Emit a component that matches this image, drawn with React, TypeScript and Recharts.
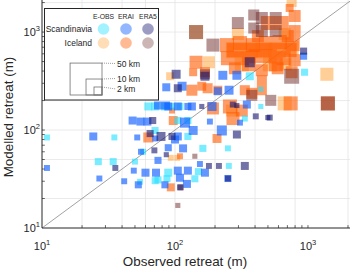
import React from 'react';
import { ScatterChart, Scatter, XAxis, YAxis, CartesianGrid, ReferenceLine, Label } from 'recharts';

const FONT = '"Liberation Sans", Arial, Helvetica, sans-serif';
const INK = '#262626';

const X_DOMAIN = [10, 2070];
const Y_DOMAIN = [10, 2125];
const MAJOR_TICKS = [10, 100, 1000];
const GRID_VALUES = [20, 30, 40, 50, 60, 70, 80, 90, 100, 200, 300, 400, 500, 600, 700, 800, 900, 1000, 2000];

// [observed retreat m, modelled retreat m, glacier length km]
const iceEobs = [
  [144, 1000, 7.4], [297, 954, 5.1], [180, 492, 5.1], [668, 187, 7.4], [1387, 371, 6.2],
  [754, 2030, 3.4], [668, 954, 5.1], [277, 654, 10], [365, 654, 10], [465, 654, 10],
  [592, 654, 10], [754, 686, 7.4], [318, 469, 7.4], [516, 469, 7.4], [680, 469, 5.1],
  [92, 354, 2], [93, 52, 1], [104, 52, 1], [268, 158, 5.1],
];
const iceErai = [
  [246, 736, 7.4], [308, 772, 7.4], [385, 736, 7.4], [482, 772, 7.4], [613, 791, 7.4],
  [767, 754, 7.4], [250, 541, 7.4], [318, 541, 7.4], [405, 567, 7.4], [516, 567, 7.4],
  [656, 541, 7.4], [794, 516, 5.1], [282, 427, 5.1], [450, 408, 5.1], [592, 427, 5.1],
  [499, 1237, 7.4], [634, 1237, 7.4], [794, 1459, 5.1], [794, 1024, 5.1], [728, 1763, 2],
  [144, 492, 6.2], [754, 389, 5.1], [1411, 187, 7.4], [741, 187, 7.4], [168, 389, 3.4],
  [137, 389, 2], [134, 255, 4.2], [210, 255, 2.6], [378, 237, 4.2], [259, 174, 7.4],
  [273, 131, 6.2], [193, 166, 5.1], [450, 322, 3.4], [450, 255, 3.4], [207, 82, 2.6],
  [63, 84, 3.4], [97, 125, 2.6], [109, 54, 1], [93, 26, 2], [95, 158, 1], [335, 255, 3.4],
  [318, 158, 5.1], [176, 267, 3.4], [159, 280, 2.6],
  [277, 654, 7.4], [353, 654, 7.4], [450, 654, 7.4], [572, 654, 7.4], [728, 654, 7.4],
  [360, 469, 7.4], [572, 469, 7.4], [420, 910, 5.1], [705, 910, 5.1],
];
const iceEra5 = [
  [144, 1000, 7.4], [193, 736, 6.2], [297, 1237, 5.1], [391, 1494, 4.2], [391, 1099, 4.2],
  [450, 1392, 5.1], [450, 1024, 5.1], [572, 1392, 5.1], [572, 1024, 5.1], [754, 354, 8.6],
  [1411, 187, 7.4], [168, 371, 3.4], [378, 226, 4.2], [525, 201, 4.2], [111, 26, 1],
  [105, 17, 0.7], [141, 54, 0.7],
];
const scanEobs = [
  [943, 389, 1.5], [442, 261, 0.7], [442, 174, 0.7], [365, 354, 2], [335, 131, 1],
  [10.9, 84, 1], [35, 84, 1], [26.5, 47.6, 1.5], [34.3, 47.6, 1.5], [50, 47.6, 1],
  [74.5, 31, 1.5], [63, 174, 2], [71, 174, 2], [84, 174, 2], [95, 174, 1.5],
  [250, 65, 1], [254, 43, 1], [162, 65, 1.5], [89, 36.7, 2], [150, 37.6, 1.5],
  [141, 31.8, 1.5], [71, 30.4, 1.5], [87, 31.8, 1.5], [57.5, 60, 1], [54.6, 29.6, 1],
  [105, 125, 1.5], [125, 125, 1.5], [109, 174, 1.5], [70.8, 99, 1.5], [125, 86, 1.5],
];
const scanErai = [
  [927, 567, 1.5], [229, 362, 2.6], [292, 362, 2.6], [113, 280, 2.6], [86, 273, 2],
  [190, 174, 2.6], [347, 182, 2], [119, 119, 3.4], [48, 125, 2], [55, 122, 2],
  [62, 122, 2], [137, 99, 2.6], [225, 99, 3.4], [24.3, 86, 2], [52, 84, 1],
  [71, 82, 1], [10.9, 41, 1], [27, 32, 1], [41.5, 30, 1], [53, 27.6, 1.5],
  [74.5, 49, 1.5], [60, 36.7, 2], [72, 36.7, 2], [105, 38.5, 2], [125, 38.5, 2],
  [168, 36.7, 2], [115, 65, 2], [100, 80, 2], [109, 32.6, 2], [84, 27.6, 1.5],
  [123, 28.2, 2], [250, 32, 1.5], [308, 119, 1], [183, 122, 1], [105, 174, 2],
  [125, 174, 1.5], [49, 38.5, 1], [55.5, 60, 1], [89, 66, 1.5], [154, 45, 1],
  [74.5, 178, 2], [89, 174, 2], [85.6, 178, 2], [134, 174, 2], [105, 86, 2],
  [255, 255, 2.6], [210, 249, 2],
];
const scanEra5 = [
  [365, 492, 3.4], [927, 639, 1.5], [102, 371, 2.6], [168, 354, 2.6], [292, 178, 0.7],
  [405, 138, 1], [499, 134, 0.7], [292, 90, 2], [78.5, 86, 2.6], [95, 86, 1.5],
  [65, 92, 1.5], [68, 125, 1.5], [35.6, 41, 1], [86, 56, 0.7], [180, 43, 1],
  [214, 43, 1], [335, 43, 2], [109, 26, 1], [250, 32, 1], [105, 267, 2],
  [159, 174, 0.7], [516, 134, 1], [70, 62, 1], [272, 182, 1],
];

const LEG_COLS = ['E-OBS', 'ERAI', 'ERA5'];
const LEG_ROWS = ['Scandinavia', 'Iceland'];
const LEG_SIZES = [50, 10, 2];

const SERIES = [
  { name: 'Iceland E-OBS', data: iceEobs, color: '#ffa030', opacity: 0.5 },
  { name: 'Iceland ERAI', data: iceErai, color: '#ff5a00', opacity: 0.6 },
  { name: 'Iceland ERA5', data: iceEra5, color: '#6e2a2a', opacity: 0.5 },
  { name: 'Scandinavia E-OBS', data: scanEobs, color: '#22e0ff', opacity: 0.6 },
  { name: 'Scandinavia ERAI', data: scanErai, color: '#1060ff', opacity: 0.65 },
  { name: 'Scandinavia ERA5', data: scanEra5, color: '#14146e', opacity: 0.6 },
];
// rows: Scandinavia, Iceland ; cols: E-OBS, ERAI, ERA5
const LEG_SWATCH = [
  [SERIES[3], SERIES[4], SERIES[5]],
  [SERIES[0], SERIES[1], SERIES[2]],
];

// marker side in px from glacier length (km)
const sideOf = (len: number) => 8 * Math.pow(len / 2, 0.43);

const toPoints = (rows: number[][]) => rows.map(([obs, mod, len]) => ({ obs, mod, len }));

const squareShape = (color: string, opacity: number) => (p: any) => {
  const { cx, cy, payload } = p;
  if (cx == null || cy == null) return null;
  const s = sideOf(payload.len);
  return <rect x={cx - s / 2} y={cy - s / 2} width={s} height={s} fill={color} fillOpacity={opacity} />;
};

const XTick = (props: any) => {
  const { x, y, payload } = props;
  const exp = Math.round(Math.log10(payload.value));
  return (
    <text x={x} y={y + 22} textAnchor="middle" fill={INK} fontSize={11} fontFamily={FONT}>
      <tspan>10</tspan>
      <tspan dy={-5} fontSize={7.5}>{exp}</tspan>
    </text>
  );
};

const YTick = (props: any) => {
  const { x, y, payload } = props;
  const exp = Math.round(Math.log10(payload.value));
  return (
    <text x={x - 2} y={y + 4} textAnchor="end" fill={INK} fontSize={11} fontFamily={FONT}>
      <tspan>10</tspan>
      <tspan dy={-5} fontSize={7.5}>{exp}</tspan>
    </text>
  );
};

const xTitle = (p: any) => {
  const vb = p.viewBox;
  return (
    <text x={vb.x + vb.width / 2 - 11} y={vb.y + 38} textAnchor="middle" fill={INK} fontSize={13.4} fontFamily={FONT}>
      Observed retreat (m)
    </text>
  );
};

const yTitle = (p: any) => {
  const vb = p.viewBox;
  const cy = vb.y + vb.height / 2 + 3;
  return (
    <text x={8} y={cy} transform={`rotate(-90, 8, ${cy})`} textAnchor="middle" dominantBaseline="central" fill={INK} fontSize={13.4} fontFamily={FONT}>
      Modelled retreat (m)
    </text>
  );
};

const Legend = () => {
  const colX = [103.5, 126, 148];
  const rowY = [29, 43];
  const labelY = [66.5, 81.5, 92];
  return (
    <svg width={350} height={269} style={{ position: 'absolute', left: 0, top: 0, pointerEvents: 'none' }}>
      <rect x={44.5} y={8.5} width={114} height={91.5} fill="#fff" stroke={INK} strokeWidth={1} />
      {LEG_COLS.map((c, i) => (
        <text key={c} x={colX[i]} y={19} textAnchor="middle" fontSize={6.8} fill={INK} fontFamily={FONT}>{c}</text>
      ))}
      {LEG_ROWS.map((r, j) => (
        <g key={r}>
          <text x={92} y={rowY[j] + 3} textAnchor="end" fontSize={8.5} fill={INK} fontFamily={FONT}>{r}</text>
          {LEG_SWATCH[j].map((s, i) => (
            <circle key={s.name} cx={colX[i]} cy={rowY[j]} r={5.8} fill={s.color} fillOpacity={s.opacity * 0.7} />
          ))}
        </g>
      ))}
      {LEG_SIZES.map((km, i) => {
        const s = sideOf(km);
        return (
          <g key={km}>
            <rect x={102 - s} y={95 - s} width={s} height={s} fill="none" stroke="#707070" strokeWidth={0.8} />
            <line x1={102} y1={95 - s} x2={116} y2={labelY[i] - 3} stroke="#707070" strokeWidth={0.7} strokeDasharray="1 1" />
            <text x={117} y={labelY[i]} fontSize={8.5} fill={INK} fontFamily={FONT}>{`${km} km`}</text>
          </g>
        );
      })}
    </svg>
  );
};

export default function App() {
  return (
    <div style={{ position: 'absolute', left: 0, top: 0, width: 350, height: 269, background: '#fff', fontFamily: FONT }}>
      <ScatterChart width={350} height={269} margin={{ top: 0, right: 0, bottom: 0, left: 0 }}>
        <CartesianGrid stroke="#e4e4e4" strokeWidth={0.8} horizontalValues={GRID_VALUES} verticalValues={GRID_VALUES} />
        <XAxis
          type="number" dataKey="obs" scale="log" domain={X_DOMAIN} allowDataOverflow
          ticks={MAJOR_TICKS} tick={<XTick />} tickLine={false} tickSize={0} tickMargin={0}
          axisLine={{ stroke: INK, strokeWidth: 1 }} height={41}
        >
          <Label content={xTitle} />
        </XAxis>
        <YAxis
          type="number" dataKey="mod" scale="log" domain={Y_DOMAIN} allowDataOverflow
          ticks={MAJOR_TICKS} tick={<YTick />} tickLine={false} tickSize={0} tickMargin={0}
          axisLine={{ stroke: INK, strokeWidth: 1 }} width={42}
        >
          <Label content={yTitle} />
        </YAxis>
        {SERIES.map((s) => (
          <Scatter key={s.name} name={s.name} data={toPoints(s.data)} shape={squareShape(s.color, s.opacity)} isAnimationActive={false} />
        ))}
        <ReferenceLine segment={[{ x: 10, y: 10 }, { x: 2070, y: 2070 }]} stroke="#8a8a8a" strokeWidth={0.8} />
        {GRID_VALUES.map((v) => (
          <ReferenceLine key={`ty${v}`} segment={[{ x: 10, y: v }, { x: 10.5, y: v }]} stroke={INK} strokeWidth={0.7} />
        ))}
        {GRID_VALUES.map((v) => (
          <ReferenceLine key={`tx${v}`} segment={[{ x: v, y: 10 }, { x: v, y: 10.7 }]} stroke={INK} strokeWidth={0.7} />
        ))}
      </ScatterChart>
      <Legend />
    </div>
  );
}
